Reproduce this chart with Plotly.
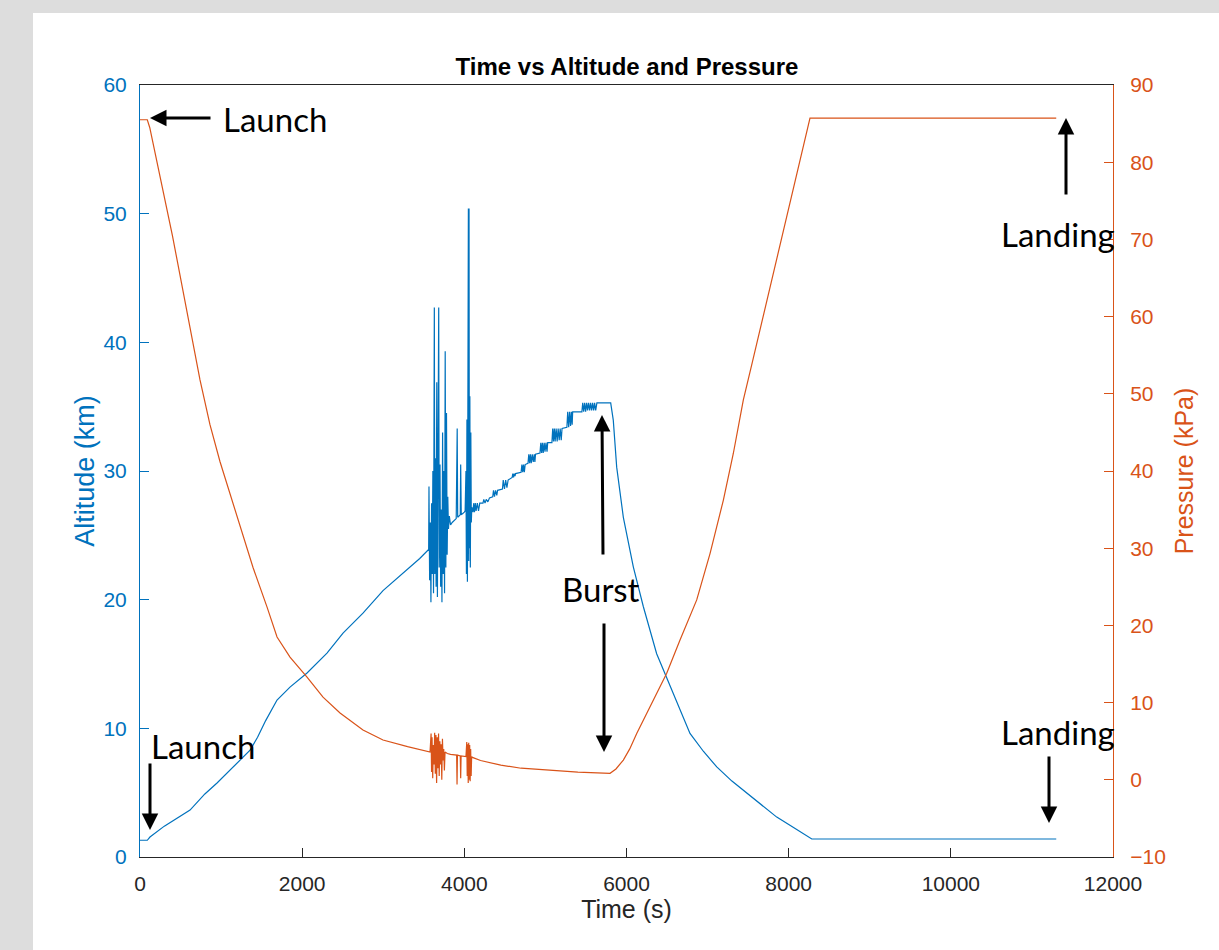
import plotly.graph_objects as go

# ---------------- data ----------------
alt_time = [0, 90, 123, 300, 617, 800, 950, 1150, 1357, 1450, 1550, 1690, 1850, 2060, 2306,
            2504, 2750, 2997, 3293, 3450, 3560,
            3564, 3572, 3580, 3588, 3596, 3604, 3612, 3620, 3630, 3636, 3644, 3652, 3660,
            3668, 3676, 3684, 3690, 3700, 3708, 3716, 3724, 3732, 3740, 3748, 3756, 3764,
            3772, 3780, 3788, 3796, 3804, 3815, 3830, 3850, 3900, 3912, 3918, 3950, 3955,
            3962, 4000, 4010, 4020, 4026, 4032, 4038, 4044, 4050, 4054, 4058, 4062, 4068,
            4074, 4080, 4086, 4092,
            4107, 4115, 4125, 4135, 4145, 4160, 4175, 4190, 4230, 4240, 4255, 4270, 4290,
            4310, 4350, 4360, 4372, 4385, 4400, 4410, 4470, 4480, 4495, 4510, 4525, 4540,
            4590, 4598, 4607, 4616, 4625, 4632, 4700, 4710, 4720, 4730, 4740, 4750, 4785,
            4795, 4805, 4815, 4825, 4838, 4850, 4862, 4870, 4878, 4933, 4943, 4953, 4963,
            4973, 4985, 4995, 5007, 5020, 5028, 5080, 5090, 5100, 5110, 5120, 5132, 5145,
            5157, 5170, 5182, 5195, 5205, 5265, 5275, 5287, 5298, 5310, 5320, 5330, 5336,
            5450, 5460, 5472, 5484, 5496, 5508, 5520, 5532, 5545, 5557, 5570, 5582, 5595,
            5607, 5620, 5635, 5805,
            5837, 5879, 5961, 6084, 6208, 6372, 6578, 6783, 6950, 7113, 7300, 7483, 7670,
            7853, 8060, 8265, 8285, 11300]
alt_km = [1.3, 1.3, 1.55, 2.4, 3.65, 4.9, 5.75, 7.0, 8.3, 9.3, 10.6, 12.2, 13.2, 14.3, 15.85,
          17.4, 18.95, 20.7, 22.3, 23.2, 23.9,
          28.8, 21.5, 26.0, 19.8, 27.5, 22.0, 30.0, 20.5, 42.7, 22.0, 31.0, 21.0, 36.9,
          20.2, 28.0, 42.7, 22.5, 30.5, 21.0, 27.0, 19.8, 33.0, 22.0, 30.0, 20.5, 39.3,
          22.5, 34.5, 23.5, 28.0, 25.5, 26.5, 25.8, 26.0, 26.3, 33.3, 26.4, 26.6, 30.5,
          26.6, 26.8, 26.9, 30.0, 22.0, 34.0, 21.4, 35.8, 50.4, 23.0, 50.4, 24.0, 35.8,
          22.5, 33.0, 26.0, 27.2,
          26.8, 27.5, 26.8, 27.5, 26.9, 27.5, 26.9, 27.5, 27.5, 27.8, 27.5, 27.8, 27.6,
          27.9, 28.0, 28.5, 28.0, 28.5, 28.1, 28.5, 28.6, 29.3, 28.6, 29.3, 28.7, 29.3,
          29.5, 29.8, 29.5, 29.8, 29.6, 29.8, 29.9, 30.5, 29.9, 30.5, 29.9, 30.5, 30.6,
          31.3, 30.6, 31.3, 30.6, 31.3, 30.7, 31.3, 30.7, 31.3, 31.4, 32.2, 31.4, 32.2,
          31.4, 32.2, 31.5, 32.2, 31.5, 32.2, 32.2, 33.3, 32.3, 33.3, 32.3, 33.3, 32.3,
          33.3, 32.4, 33.3, 32.4, 33.3, 33.4, 34.6, 33.4, 34.6, 33.5, 34.6, 33.6, 34.6,
          34.6, 35.3, 34.6, 35.3, 34.6, 35.3, 34.7, 35.3, 34.7, 35.3, 34.7, 35.3, 34.7,
          35.3, 34.7, 35.3, 35.3,
          33.95, 30.3, 26.4, 22.55, 19.45, 15.8, 12.7, 9.6, 8.2, 7.0, 5.9, 4.95, 4.0,
          3.1, 2.3, 1.5, 1.4, 1.4]

pres_time = [0, 90, 120, 400, 740, 863, 987, 1110, 1233, 1394, 1566, 1690, 1850, 2060, 2257,
             2467, 2750, 2997, 3300, 3577,
             3590, 3596, 3602, 3610, 3618, 3626, 3634, 3642, 3650, 3658, 3666, 3674, 3682,
             3690, 3698, 3706, 3714, 3722, 3730, 3738, 3746, 3754, 3762, 3790, 3830, 3905,
             3910, 3915, 3950, 3955, 3960, 4020, 4030, 4036, 4042, 4048, 4054, 4060, 4066,
             4072, 4078, 4084, 4090, 4100,
             4200, 4450, 4700, 5000, 5400, 5797,
             5870, 5961, 6040, 6126, 6290, 6496, 6660, 6866, 7030, 7194, 7318, 7441, 7550,
             7800, 8000, 8263, 11300]
pres_kpa = [85.5, 85.5, 84.5, 70.5, 51.8, 46.0, 41.2, 37.0, 33.0, 27.5, 22.4, 18.5, 15.9,
            13.3, 10.7, 8.65, 6.45, 5.15, 4.3, 3.6,
            6.0, 1.0, 5.5, 0.2, 4.5, 2.0, 6.1, 0.8, 5.8, -0.4, 5.5, 1.5, 6.0,
            0.5, 5.0, 2.0, 4.6, 0.0, 5.3, 2.5, 4.0, 1.2, 3.6, 3.4, 3.3, 3.2,
            -0.6, 3.2, 3.1, 0.2, 3.1, 3.0, 4.9, 0.5, 4.6, -0.4, 4.8, 0.0, 4.5,
            -0.2, 4.0, 0.5, 3.0, 2.9,
            2.5, 1.9, 1.5, 1.25, 1.0, 0.84,
            1.4, 2.56, 4.0, 6.0, 9.5, 13.8, 18.1, 23.3, 29.3, 36.2, 42.3, 49.2, 54.0,
            65.1, 74.0, 85.7, 85.7]

x_ticks = [0, 2000, 4000, 6000, 8000, 10000, 12000]
alt_ticks = [0, 10, 20, 30, 40, 50, 60]
pres_ticks = [-10, 0, 10, 20, 30, 40, 50, 60, 70, 80, 90]

# ---------------- styling ----------------
W, H = 1219, 950
L, R, T, B = 140, 1113, 85, 857
BLUE = "#0072BD"
ORANGE = "#D95319"
DARK = "#262626"
FONT = "Liberation Sans, Arial, sans-serif"
NOTE_FONT = "Lato, Open Sans, sans-serif"


def px(xp):
    return (xp - L) / (R - L)


def py(yp):
    return (B - yp) / (B - T)


fig = go.Figure()
fig.add_trace(go.Scatter(x=alt_time, y=alt_km, mode="lines",
                         line=dict(color=BLUE, width=1.2), yaxis="y", showlegend=False))
fig.add_trace(go.Scatter(x=pres_time, y=pres_kpa, mode="lines",
                         line=dict(color=ORANGE, width=1.2), yaxis="y2", showlegend=False))

annotations = []
# arrows: (head_x, head_y, tail_x, tail_y) in pixels
arrows = [(150, 118, 212, 118), (1066, 118, 1066, 196), (602, 415, 603, 556),
          (604, 752, 604, 622), (150, 830, 150, 762), (1049, 823, 1049, 755)]
for hx, hy, tx, ty in arrows:
    annotations.append(dict(x=px(hx), y=py(hy), xref="paper", yref="paper",
                            ax=tx - hx, ay=ty - hy, axref="pixel", ayref="pixel",
                            text="", showarrow=True, arrowhead=2, arrowsize=1.1,
                            arrowwidth=3, arrowcolor="black", standoff=0))
labels = [("Launch", 221, 119, "left"), ("Landing", 1058, 234, "center"),
          ("Burst", 601, 589, "center"), ("Launch", 149, 746, "left"),
          ("Landing", 1058, 732, "center")]
for txt, xp, yp, anc in labels:
    annotations.append(dict(x=px(xp), y=py(yp), xref="paper", yref="paper",
                            text=txt, showarrow=False, xanchor=anc, yanchor="middle",
                            font=dict(family=NOTE_FONT, size=33, color="black")))

fig.update_layout(
    width=W, height=H,
    margin=dict(l=L, r=W - R, t=T, b=H - B, pad=0),
    paper_bgcolor="#dddddd",
    plot_bgcolor="white",
    title=dict(text="<b>Time vs Altitude and Pressure</b>", x=px(627), xref="paper",
               y=1 - 67 / H, yref="container", xanchor="center", yanchor="middle",
               font=dict(family=FONT, size=24, color="black")),
    xaxis=dict(range=[0, 12000], tickvals=x_ticks, ticktext=[str(v) for v in x_ticks],
               showgrid=False, zeroline=False, showline=True, linecolor=DARK, linewidth=1,
               mirror=True, ticks="inside", ticklen=9, tickcolor=DARK,
               tickfont=dict(family=FONT, size=21, color=DARK), ticklabelstandoff=8,
               title=dict(text="Time (s)", font=dict(family=FONT, size=25, color=DARK),
                          standoff=6),
               automargin=False),
    yaxis=dict(range=[0, 60], tickvals=alt_ticks, showgrid=False, zeroline=False,
               showline=True, linecolor=BLUE, linewidth=1, ticks="inside", ticklen=9,
               tickcolor=BLUE, tickfont=dict(family=FONT, size=21, color=BLUE),
               ticklabelstandoff=8,
               title=dict(text="Altitude (km)", font=dict(family=FONT, size=27, color=BLUE),
                          standoff=0),
               automargin=False),
    yaxis2=dict(range=[-10, 90], tickvals=pres_ticks, overlaying="y", side="right",
                showgrid=False, zeroline=False, showline=True, linecolor=ORANGE,
                linewidth=1, ticks="inside", ticklen=9, tickcolor=ORANGE,
                tickfont=dict(family=FONT, size=21, color=ORANGE), ticklabelstandoff=12,
                title=dict(text="Pressure (kPa)", font=dict(family=FONT, size=25, color=ORANGE),
                           standoff=10),
                automargin=False),
    annotations=annotations,
    shapes=[dict(type="rect", xref="paper", yref="paper", layer="below",
                 x0=px(33), x1=px(W + 5), y0=py(H + 5), y1=py(13),
                 fillcolor="white", line=dict(width=0))],
)

fig.write_html("out.html")
